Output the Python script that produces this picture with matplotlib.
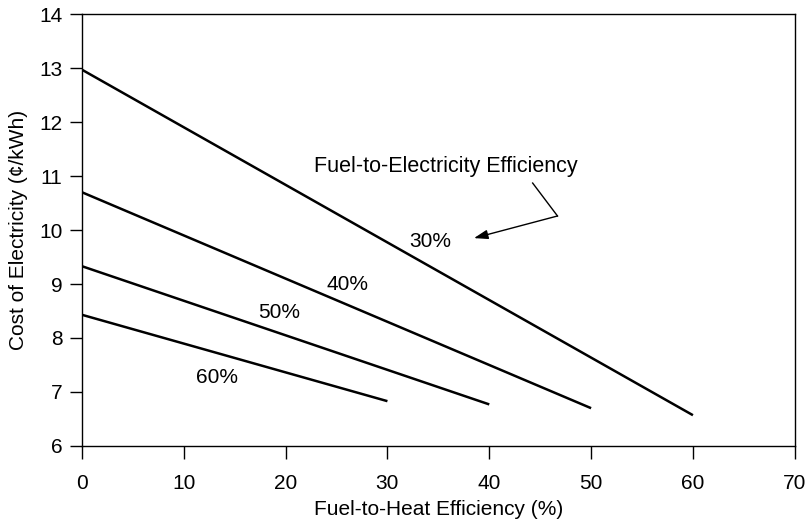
import matplotlib.pyplot as plt

plt.rcParams['font.family'] = ['Liberation Sans', 'DejaVu Sans']

# fuel-to-heat efficiency (%) start/end and cost of electricity (cents/kWh)
heat_30 = [0, 60]
cost_30 = [12.97, 6.57]
heat_40 = [0, 50]
cost_40 = [10.70, 6.70]
heat_50 = [0, 40]
cost_50 = [9.33, 6.77]
heat_60 = [0, 30]
cost_60 = [8.43, 6.83]

series = [
    (heat_30, cost_30, "30%", (34.2, 9.78)),
    (heat_40, cost_40, "40%", (26.1, 9.0)),
    (heat_50, cost_50, "50%", (19.4, 8.48)),
    (heat_60, cost_60, "60%", (13.3, 7.26)),
]

FS = 15

fig = plt.figure(figsize=(8.11, 5.21), dpi=100)
ax = fig.add_axes([0.101, 0.144, 0.879, 0.829])

for x, y, lab, pos in series:
    ax.plot(x, y, color='black', lw=1.8, solid_capstyle='butt')
    ax.text(pos[0], pos[1], lab, fontsize=FS, ha='center', va='center')

ax.text(35.7, 11.17, "Fuel-to-Electricity Efficiency", fontsize=FS + 0.5,
        ha='center', va='center')
ax.plot([44.26, 46.7], [10.87, 10.26], color='black', lw=1)
ax.annotate("", xy=(38.5, 9.85), xytext=(46.7, 10.26),
            arrowprops=dict(arrowstyle='-|>,head_length=0.6,head_width=0.2',
                            color='black', lw=1,
                            mutation_scale=14, shrinkA=0, shrinkB=0))

ax.set_xlim(0, 70)
ax.set_ylim(6, 14)
ax.set_xticks(range(0, 71, 10))
ax.set_yticks(range(6, 15))
ax.tick_params(direction='out', length=9, width=1, labelsize=FS)
ax.tick_params(axis='y', pad=5)
ax.tick_params(axis='x', pad=11)
for s in ax.spines.values():
    s.set_linewidth(1)
ax.set_xlabel("Fuel-to-Heat Efficiency (%)", fontsize=FS, labelpad=5)
ax.set_ylabel("Cost of Electricity (¢/kWh)", fontsize=FS, labelpad=8)

fig.savefig("out.png", dpi=100)
